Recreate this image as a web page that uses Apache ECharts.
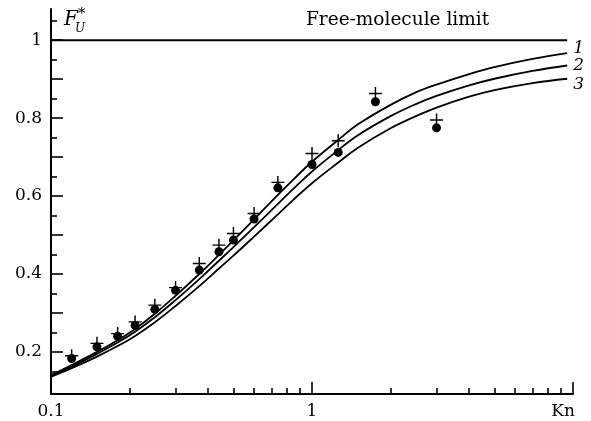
<!DOCTYPE html>
<html>
<head>
<meta charset="utf-8">
<script src="https://cdn.jsdelivr.net/npm/echarts@6/dist/echarts.min.js"></script>
<style>
html, body { margin: 0; padding: 0; background: #fff; }
#visual { width: 591px; height: 421px; }
</style>
</head>
<body>
<div id="visual"></div>
<script>
// Kn grid for the three theory curves
var knCurve = [0.1, 0.12, 0.15, 0.18, 0.21, 0.25, 0.3, 0.37, 0.44, 0.5, 0.6, 0.74, 0.85, 1, 1.25, 1.5, 2, 2.5, 3, 4, 5, 7, 9.5];
var curve1 = [0.14, 0.166, 0.2, 0.23, 0.259, 0.298, 0.344, 0.4, 0.449, 0.486, 0.54, 0.603, 0.643, 0.688, 0.742, 0.784, 0.834, 0.866, 0.886, 0.913, 0.931, 0.952, 0.967];
var curve2 = [0.138, 0.162, 0.195, 0.224, 0.252, 0.289, 0.333, 0.387, 0.434, 0.469, 0.52, 0.58, 0.619, 0.663, 0.716, 0.756, 0.805, 0.836, 0.857, 0.884, 0.901, 0.921, 0.935];
var curve3 = [0.136, 0.158, 0.188, 0.215, 0.241, 0.276, 0.318, 0.369, 0.414, 0.447, 0.496, 0.553, 0.591, 0.633, 0.684, 0.724, 0.774, 0.805, 0.827, 0.855, 0.872, 0.89, 0.901];

// experimental points
var knExp = [0.12, 0.15, 0.18, 0.21, 0.25, 0.3, 0.37, 0.44, 0.5, 0.6, 0.74, 1.0, 1.26, 1.75, 3.0];
var crossVals = [0.19, 0.222, 0.247, 0.277, 0.32, 0.365, 0.427, 0.474, 0.504, 0.555, 0.635, 0.709, 0.742, 0.863, 0.795];
var dotVals = [0.183, 0.213, 0.24, 0.268, 0.309, 0.358, 0.41, 0.457, 0.487, 0.541, 0.621, 0.681, 0.712, 0.842, 0.775];

var limitKn = [0.1, 9.5];
var limitVal = [1, 1];

// ticks and labels
var xMajorTicks = [1, 10];
var xMinorTicks = [0.2, 0.3, 0.4, 0.5, 0.6, 0.7, 0.8, 0.9, 2, 3, 4, 5, 6, 7, 8, 9];
var xLabels = [0.1, 1, 10];
var yMajorTicks = [0.2, 0.3, 0.4, 0.5, 0.6, 0.7, 0.8, 0.9, 1.0];
var yMinorTicks = [0.15, 0.25, 0.35, 0.45, 0.55, 0.65, 0.75, 0.85, 0.95, 1.05];
var yLabels = [0.2, 0.4, 0.6, 0.8, 1];

var pairs = function(xs, ys) {
	var out = [];
	for (var i = 0; i < xs.length; i++) out.push([xs[i], ys[i]]);
	return out;
};

var font = 'DejaVu Serif';
var chartDom = document.getElementById('visual');
var myChart = echarts.init(chartDom);

var curveSeries = function(name, ys, dy) {
	return {
		name: name,
		type: 'line',
		data: pairs(knCurve, ys),
		showSymbol: false,
		smooth: 0.4,
		lineStyle: { color: '#000', width: 1.8 },
		endLabel: {
			show: true,
			formatter: name,
			fontFamily: font,
			fontStyle: 'italic',
			fontSize: 17,
			color: '#000',
			distance: 6,
			offset: [0, dy]
		},
		z: 3
	};
};

var xBase = { type: 'log', logBase: 10, min: 0.1, max: 10, splitLine: { show: false } };
var yBase = { type: 'value', min: 0.092, max: 1.08, splitLine: { show: false } };

var options = {
	animation: false,
	backgroundColor: '#fff',
	grid: { left: 51, right: 18, top: 9, bottom: 27 },
	xAxis: [
		Object.assign({}, xBase, {
			position: 'bottom',
			axisLine: { show: true, lineStyle: { color: '#000', width: 2 } },
			axisTick: { show: true, inside: true, length: 12, customValues: xMajorTicks, lineStyle: { color: '#000', width: 1.6 } },
			axisLabel: {
				show: true,
				customValues: xLabels,
				margin: 9,
				fontFamily: font,
				fontSize: 17,
				color: '#000',
				formatter: function(v) {
					if (v >= 9.9) return '{kn|Kn}';
					if (v >= 0.99) return '1';
					return '0.1';
				},
				rich: { kn: { fontFamily: font, fontSize: 17, color: '#000', padding: [0, 20, 0, 0] } }
			}
		}),
		Object.assign({}, xBase, {
			position: 'bottom',
			axisLine: { show: false },
			axisTick: { show: true, inside: true, length: 6, customValues: xMinorTicks, lineStyle: { color: '#000', width: 1.6 } },
			axisLabel: { show: false }
		})
	],
	yAxis: [
		Object.assign({}, yBase, {
			position: 'left',
			axisLine: { show: true, lineStyle: { color: '#000', width: 2 } },
			axisTick: { show: true, inside: true, length: 12, customValues: yMajorTicks, lineStyle: { color: '#000', width: 1.6 } },
			axisLabel: {
				show: true,
				customValues: yLabels,
				margin: 9,
				fontFamily: font,
				fontSize: 17,
				color: '#000',
				formatter: function(v) { return Math.abs(v - 1) < 1e-6 ? '1' : v.toFixed(1); }
			}
		}),
		Object.assign({}, yBase, {
			position: 'left',
			axisLine: { show: false },
			axisTick: { show: true, inside: true, length: 6, customValues: yMinorTicks, lineStyle: { color: '#000', width: 1.6 } },
			axisLabel: { show: false }
		})
	],
	graphic: [
		{ type: 'text', left: 64, top: 10, style: { text: 'F', font: 'italic 20px "DejaVu Serif"', fill: '#000' } },
		{ type: 'text', left: 75, top: 23, style: { text: 'U', font: 'italic 12px "DejaVu Serif"', fill: '#000' } },
		{ type: 'text', left: 78, top: 7, style: { text: '*', font: '15px "DejaVu Serif"', fill: '#000' } },
		{ type: 'text', left: 306, top: 11, style: { text: 'Free-molecule limit', font: '18.5px "DejaVu Serif"', fill: '#000' } }
	],
	series: [
		{
			name: 'limit',
			type: 'line',
			data: pairs(limitKn, limitVal),
			showSymbol: false,
			lineStyle: { color: '#000', width: 2 }
		},
		curveSeries('1', curve1, -4),
		curveSeries('2', curve2, 0),
		curveSeries('3', curve3, 6),
		{
			name: 'cross',
			type: 'scatter',
			data: pairs(knExp, crossVals),
			symbol: 'path://M4.45,0h1.1v10h-1.1zM0,4.45h10v1.1h-10z',
			symbolSize: 13,
			itemStyle: { color: '#000', opacity: 1 },
			z: 4
		},
		{
			name: 'dot',
			type: 'scatter',
			data: pairs(knExp, dotVals),
			symbol: 'circle',
			symbolSize: 9,
			itemStyle: { color: '#000', opacity: 1 },
			z: 5
		}
	]
};
myChart.setOption(options);
</script>
</body>
</html>
